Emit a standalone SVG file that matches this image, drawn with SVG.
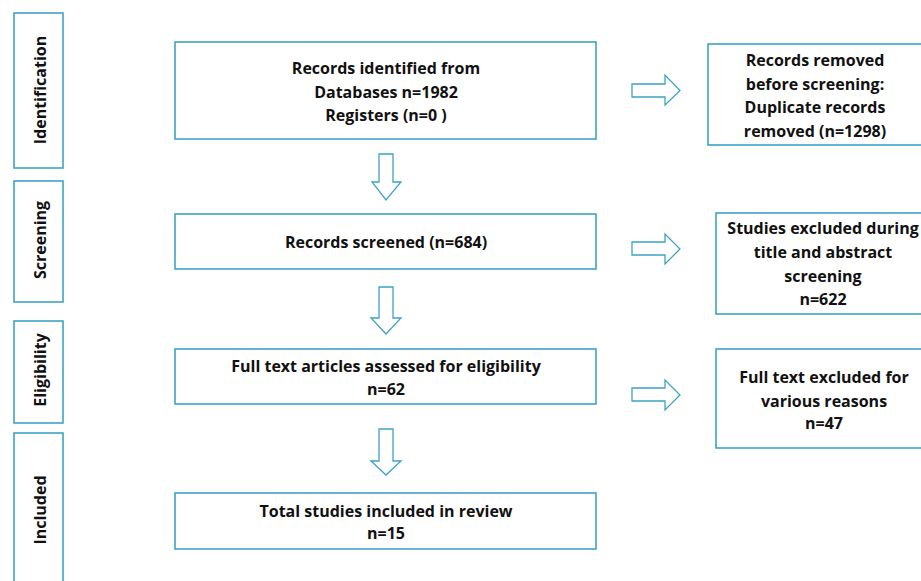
<svg xmlns="http://www.w3.org/2000/svg" width="921" height="581" viewBox="0 0 921 581">
<style>
.box{fill:#fff;stroke:#3ea3c3;stroke-width:1.6}
.arr{fill:#fff;stroke:#3ea3c3;stroke-width:1.3;stroke-linejoin:miter}
text{font-family:"Open Sans","Liberation Sans",sans-serif;font-weight:bold;font-size:16px;fill:#111;text-anchor:middle}
</style>
<rect width="921" height="581" fill="#fff"/>
<g id="stage-identification"><rect class="box" x="14" y="13" width="49" height="155"/><text transform="translate(46,90) rotate(-90)">Identification</text></g>
<g id="stage-screening"><rect class="box" x="14" y="181" width="49" height="121"/><text transform="translate(46,240) rotate(-90)">Screening</text></g>
<g id="stage-eligibility"><rect class="box" x="14" y="321" width="49" height="102"/><text transform="translate(46,370) rotate(-90)">Eligibility</text></g>
<g id="stage-included"><rect class="box" x="14" y="433" width="49" height="160"/><text transform="translate(46,510) rotate(-90)">Included</text></g>

<g id="identified"><rect class="box" x="175" y="42" width="421" height="97"/>
<text x="386" y="74">Records identified from</text>
<text x="386" y="98">Databases n=1982</text>
<text x="386" y="121">Registers (n=0 )</text></g>

<g id="screened"><rect class="box" x="175" y="214" width="421" height="55"/>
<text x="386" y="248">Records screened (n=684)</text></g>

<g id="assessed"><rect class="box" x="175" y="349" width="421" height="55"/>
<text x="386" y="372">Full text articles assessed for eligibility</text>
<text x="386" y="395">n=62</text></g>

<g id="included"><rect class="box" x="175" y="493" width="421" height="56"/>
<text x="386" y="517">Total studies included in review</text>
<text x="386" y="539">n=15</text></g>

<g id="removed"><rect class="box" x="708" y="44" width="220" height="101"/>
<text x="815" y="66">Records removed</text>
<text x="815" y="90">before screening:</text>
<text x="815" y="113">Duplicate records</text>
<text x="815" y="137">removed (n=1298)</text></g>

<g id="excluded-screening"><rect class="box" x="716" y="213" width="212" height="101"/>
<text x="823" y="234">Studies excluded during</text>
<text x="823" y="258">title and abstract</text>
<text x="823" y="282">screening</text>
<text x="823" y="305">n=622</text></g>

<g id="excluded-fulltext"><rect class="box" x="716" y="349" width="212" height="99"/>
<text x="824" y="383">Full text excluded for</text>
<text x="824" y="407">various reasons</text>
<text x="824" y="429">n=47</text></g>

<g id="connectors">
<polygon class="arr" points="379,154 393,154 393,182 401,182 386,200 372,182 379,182"/>
<polygon class="arr" points="379,287 393,287 393,318 401,318 386,334 371,318 379,318"/>
<polygon class="arr" points="379,429 393,429 393,461 401,461 386,475 371,461 379,461"/>
<polygon class="arr" points="632,84 665,84 665,75 680,90.5 665,105 665,97 632,97"/>
<polygon class="arr" points="632,242 665,242 665,234 680,249 665,264 665,255 632,255"/>
<polygon class="arr" points="632,388 665,388 665,380 680,395 665,410 665,401 632,401"/>
</g>
</svg>
